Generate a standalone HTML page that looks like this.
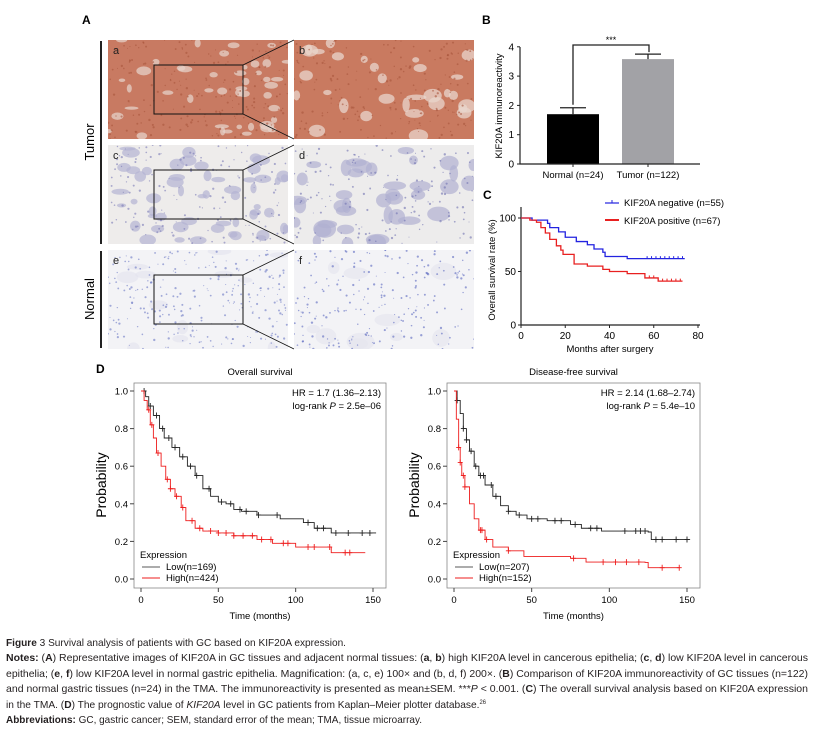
<!DOCTYPE html>
<html><head><meta charset="utf-8"><style>
html,body{margin:0;padding:0;background:#fff}
svg{display:block;font-family:"Liberation Sans",Arial,sans-serif}
</style></head><body>
<svg id="fig" width="814" height="731" viewBox="0 0 814 731">
<g id="panelA"></g>
<g id="panelB"></g>
<g id="panelC"></g>
<g id="panelD1"></g>
<g id="panelD2"></g>
<g id="caption" font-size="10.5" fill="#231f20">
<text x="6" y="646" textLength="340" lengthAdjust="spacingAndGlyphs"><tspan font-weight="bold">Figure</tspan> 3 Survival analysis of patients with GC based on KIF20A expression.</text>
<text x="6" y="661" textLength="802" lengthAdjust="spacingAndGlyphs"><tspan font-weight="bold">Notes:</tspan> (<tspan font-weight="bold">A</tspan>) Representative images of KIF20A in GC tissues and adjacent normal tissues: (<tspan font-weight="bold">a</tspan>, <tspan font-weight="bold">b</tspan>) high KIF20A level in cancerous epithelia; (<tspan font-weight="bold">c</tspan>, <tspan font-weight="bold">d</tspan>) low KIF20A level in cancerous</text>
<text x="6" y="677" textLength="802" lengthAdjust="spacingAndGlyphs">epithelia; (<tspan font-weight="bold">e</tspan>, <tspan font-weight="bold">f</tspan>) low KIF20A level in normal gastric epithelia. Magnification: (a, c, e) 100× and (b, d, f) 200×. (<tspan font-weight="bold">B</tspan>) Comparison of KIF20A immunoreactivity of GC tissues (n=122)</text>
<text x="6" y="692" textLength="802" lengthAdjust="spacingAndGlyphs">and normal gastric tissues (n=24) in the TMA. The immunoreactivity is presented as mean±SEM. ***<tspan font-style="italic">P</tspan> &lt; 0.001. (<tspan font-weight="bold">C</tspan>) The overall survival analysis based on KIF20A expression</text>
<text x="6" y="708" textLength="480" lengthAdjust="spacingAndGlyphs">in the TMA. (<tspan font-weight="bold">D</tspan>) The prognostic value of <tspan font-style="italic">KIF20A</tspan> level in GC patients from Kaplan–Meier plotter database.<tspan font-size="6" dy="-4">26</tspan></text>
<text x="6" y="723" textLength="416" lengthAdjust="spacingAndGlyphs"><tspan font-weight="bold">Abbreviations:</tspan> GC, gastric cancer; SEM, standard error of the mean; TMA, tissue microarray.</text>
</g>
</svg>
<script>
// ---------- Panel B data ----------
const barCategories = ["Normal (n=24)", "Tumor (n=122)"];
const barValues = [1.7, 3.58];
const barErrors = [0.22, 0.17];
const barTicks = [0, 1, 2, 3, 4];
// ---------- Panel C data ----------
const cTicksX = [0, 20, 40, 60, 80];
const cTicksY = [0, 50, 100];
const negTimes = [0, 5, 12, 13, 17, 20, 25, 30, 33, 37, 38, 48, 74];
const negSurv = [100, 98, 95, 91, 87, 82, 78, 75, 71, 68, 64, 62, 62];
const negCensor = [57, 59, 61, 63, 65, 67, 69, 71, 73];
const posTimes = [0, 4, 7, 9, 11, 13, 16, 18, 19, 24, 30, 37, 40, 48, 56, 62, 73];
const posSurv = [100, 98, 96, 91, 86, 80, 74, 70, 66, 57, 55, 52, 50, 48, 44, 41, 41];
const posCensor = [58, 60, 64, 66, 68, 70, 72];
// ---------- Panel D data ----------
const dTicksX = [0, 50, 100, 150];
const dTicksY = [0, 0.2, 0.4, 0.6, 0.8, 1.0];
const osLowT = [0, 3, 5, 8, 12, 15, 20, 25, 30, 35, 40, 45, 50, 55, 60, 65, 75, 90, 105, 112, 123, 152];
const osLowS = [1, 0.97, 0.92, 0.87, 0.8, 0.75, 0.7, 0.65, 0.6, 0.55, 0.48, 0.44, 0.41, 0.4, 0.37, 0.36, 0.34, 0.32, 0.3, 0.27, 0.245, 0.245];
const osLowC = [2, 6, 10, 14, 18, 22, 27, 32, 36, 44, 52, 58, 64, 68, 76, 88, 108, 114, 118, 126, 134, 143, 148];
const osHighT = [0, 2, 4, 6, 8, 10, 13, 16, 19, 22, 26, 29, 35, 40, 50, 60, 75, 85, 100, 123, 145];
const osHighS = [1, 0.95, 0.9, 0.82, 0.75, 0.67, 0.6, 0.53, 0.48, 0.44, 0.38, 0.31, 0.27, 0.255, 0.245, 0.23, 0.21, 0.19, 0.17, 0.14, 0.14];
const osHighC = [5, 7, 11, 17, 19, 23, 27, 33, 38, 45, 50, 55, 60, 66, 72, 78, 84, 92, 95, 108, 112, 122, 132, 135];
const dfsLowT = [0, 2, 4, 6, 8, 10, 13, 16, 20, 25, 30, 35, 40, 47, 60, 75, 82, 95, 125, 127, 152];
const dfsLowS = [1, 0.95, 0.88, 0.8, 0.74, 0.68, 0.6, 0.55, 0.5, 0.44, 0.39, 0.36, 0.34, 0.32, 0.31, 0.29, 0.27, 0.255, 0.25, 0.21, 0.21];
const dfsLowC = [2, 6, 8, 11, 14, 17, 19, 24, 27, 35, 42, 50, 54, 65, 69, 78, 88, 92, 110, 117, 120, 123, 130, 134, 143, 150];
const dfsHighT = [0, 1.5, 3, 4, 5, 7, 10, 13, 16, 20, 25, 35, 45, 75, 85, 123, 125, 145];
const dfsHighS = [1, 0.85, 0.7, 0.62, 0.55, 0.49, 0.4, 0.32, 0.26, 0.21, 0.17, 0.15, 0.12, 0.11, 0.09, 0.088, 0.06, 0.06];
const dfsHighC = [3, 4, 6, 7, 17, 18, 21, 35, 77, 96, 104, 111, 119, 134, 145];

const NS = "http://www.w3.org/2000/svg";
function mk(parent, tag, attrs, txt) {
  const e = document.createElementNS(NS, tag);
  for (const k in attrs) e.setAttribute(k, attrs[k]);
  if (txt !== undefined) e.textContent = txt;
  parent.appendChild(e);
  return e;
}
function stepAt(T, S, t) { let v = S[0]; for (let i = 0; i < T.length; i++) if (T[i] <= t) v = S[i]; return v; }
function stepPath(T, S, sx, sy) {
  let d = "M" + sx(T[0]) + "," + sy(S[0]);
  for (let i = 1; i < T.length; i++) d += " H" + sx(T[i]) + " V" + sy(S[i]);
  return d;
}

// ---------- Panel A (histology textures) ----------
(function () {
  const g = document.getElementById("panelA");
  mk(g, "text", { x: 82, y: 24, "font-size": 12, "font-weight": "bold" }, "A");
  let seed = 7; function rnd() { seed = (seed * 16807) % 2147483647; return seed / 2147483647; }
  const tiles = [
    { x: 108, y: 40, bg: "#c87a62", blob: "#e6d2c8", nb: 45, rx: 5, ry: 3, op: 0.75, dot: "#a8553c", nd: 200, l: "a" },
    { x: 294, y: 40, bg: "#c97a60", blob: "#e8d6cc", nb: 30, rx: 7, ry: 5, op: 0.75, dot: "#a8553c", nd: 200, l: "b" },
    { x: 108, y: 145, bg: "#eeeceb", blob: "#b3b3d3", nb: 55, rx: 6, ry: 4, op: 0.7, dot: "#7a7ab5", nd: 150, l: "c" },
    { x: 294, y: 145, bg: "#edecec", blob: "#b0b1d2", nb: 40, rx: 8, ry: 6, op: 0.7, dot: "#6f72b0", nd: 150, l: "d" },
    { x: 108, y: 250, bg: "#f3f3f6", blob: "#e2e2ee", nb: 12, rx: 8, ry: 5, op: 0.6, dot: "#6b78c4", nd: 260, l: "e" },
    { x: 294, y: 250, bg: "#f3f3f6", blob: "#e4e4ef", nb: 10, rx: 10, ry: 6, op: 0.6, dot: "#5a68c0", nd: 220, l: "f" }
  ];
  tiles.forEach((t, i) => {
    const tg = mk(g, "g", {});
    
    
    const cp = mk(g, "clipPath", { id: "cp" + i });
    mk(cp, "rect", { x: t.x, y: t.y, width: 180, height: 99 });
    const inner = mk(tg, "g", { "clip-path": "url(#cp" + i + ")" });
    mk(inner, "rect", { x: t.x, y: t.y, width: 180, height: 99, fill: t.bg });
    for (let k = 0; k < t.nb; k++) mk(inner, "ellipse", { cx: t.x + rnd() * 180, cy: t.y + rnd() * 99, rx: t.rx * (0.5 + rnd()), ry: t.ry * (0.5 + rnd()), fill: t.blob, opacity: t.op });
    for (let k = 0; k < t.nd; k++) mk(inner, "circle", { cx: t.x + rnd() * 180, cy: t.y + rnd() * 99, r: 0.5 + rnd() * 0.7, fill: t.dot, opacity: 0.6 });
    mk(tg, "text", { x: t.x + 5, y: t.y + 14, "font-size": 11, fill: "#222" }, t.l);
    if (i % 2 === 0) {
      mk(tg, "rect", { x: t.x + 46, y: t.y + 25, width: 89, height: 49, fill: "none", stroke: "#111", "stroke-width": 1 });
      mk(g, "line", { x1: t.x + 135, y1: t.y + 25, x2: t.x + 186, y2: t.y, stroke: "#111", "stroke-width": 0.8 });
      mk(g, "line", { x1: t.x + 135, y1: t.y + 74, x2: t.x + 186, y2: t.y + 99, stroke: "#111", "stroke-width": 0.8 });
    }
  });
  mk(g, "line", { x1: 101, y1: 41, x2: 101, y2: 244, stroke: "#222", "stroke-width": 2 });
  mk(g, "line", { x1: 101, y1: 251, x2: 101, y2: 348, stroke: "#222", "stroke-width": 2 });
  const t1 = mk(g, "text", { x: 0, y: 0, "font-size": 13, transform: "translate(94,142) rotate(-90)", "text-anchor": "middle" }, "Tumor");
  
  const t2 = mk(g, "text", { x: 0, y: 0, "font-size": 13, transform: "translate(94,299) rotate(-90)", "text-anchor": "middle" }, "Normal");
  
})();

// ---------- Panel B ----------
(function () {
  const g = document.getElementById("panelB");
  mk(g, "text", { x: 482, y: 24, "font-size": 12, "font-weight": "bold" }, "B");
  const y = v => 164 - v * 29.3;
  const xc = [573, 648];
  const fills = ["#000", "#a2a2a6"];
  barTicks.forEach(t => {
    mk(g, "line", { x1: 517, x2: 520, y1: y(t), y2: y(t), stroke: "#222" });
    const tl = mk(g, "text", { x: 514, y: y(t) + 3.5, "font-size": 10, "text-anchor": "end" }, t);
    
  });
  barValues.forEach((v, i) => {
    const r = mk(g, "rect", { x: xc[i] - 26, y: y(v), width: 52, height: y(0) - y(v), fill: fills[i] });
    
    
    mk(g, "line", { x1: xc[i], x2: xc[i], y1: y(v), y2: y(v + barErrors[i]), stroke: "#222", "stroke-width": 1.3 });
    mk(g, "line", { x1: xc[i] - 13, x2: xc[i] + 13, y1: y(v + barErrors[i]), y2: y(v + barErrors[i]), stroke: "#222", "stroke-width": 1.3 });
    mk(g, "line", { x1: xc[i], x2: xc[i], y1: 164, y2: 167, stroke: "#222" });
    const cl = mk(g, "text", { x: xc[i], y: 178, "font-size": 9.5, "text-anchor": "middle" }, barCategories[i]);
    
  });
  mk(g, "path", { d: "M520,47 V164 H700", fill: "none", stroke: "#222", "stroke-width": 1.2 });
  const br = mk(g, "path", { d: "M573," + (y(barValues[0] + barErrors[0]) - 3) + " V45 H649 V" + (y(barValues[1] + barErrors[1]) - 2), fill: "none", stroke: "#222", "stroke-width": 1.3 });
  
  mk(g, "text", { x: 611, y: 43, "font-size": 9, "text-anchor": "middle" }, "***");
  const yt = mk(g, "text", { x: 0, y: 0, "font-size": 9.5, transform: "translate(502,106) rotate(-90)", "text-anchor": "middle" }, "KIF20A immunoreactivity");
  
})();

// ---------- Panel C ----------
(function () {
  const g = document.getElementById("panelC");
  mk(g, "text", { x: 483, y: 199, "font-size": 12, "font-weight": "bold" }, "C");
  const sx = t => 521 + t * (698 - 521) / 80;
  const sy = v => 325 - v * (325 - 218) / 100;
  cTicksX.forEach(t => {
    mk(g, "line", { x1: sx(t), x2: sx(t), y1: 325, y2: 328, stroke: "#222" });
    mk(g, "text", { x: sx(t), y: 339, "font-size": 10, "text-anchor": "middle" }, t);
  });
  cTicksY.forEach(t => {
    mk(g, "line", { x1: 518, x2: 521, y1: sy(t), y2: sy(t), stroke: "#222" });
    mk(g, "text", { x: 516, y: sy(t) + 3.5, "font-size": 10, "text-anchor": "end" }, t);
  });
  mk(g, "path", { d: "M521,207 V325 H700", fill: "none", stroke: "#222", "stroke-width": 1.2 });
  const series = [[negTimes, negSurv, negCensor, "#2323e0", "kif20a-negative-line"], [posTimes, posSurv, posCensor, "#e82020", "kif20a-positive-line"]];
  series.forEach(s => {
    const p = mk(g, "path", { d: stepPath(s[0], s[1], sx, sy), fill: "none", stroke: s[3], "stroke-width": 1.3 });
    
    
    s[2].forEach(c => mk(g, "line", { x1: sx(c), x2: sx(c), y1: sy(stepAt(s[0], s[1], c)) - 2.5, y2: sy(stepAt(s[0], s[1], c)), stroke: s[3] }));
  });
  mk(g, "line", { x1: 605, x2: 619, y1: 203, y2: 203, stroke: "#2323e0", "stroke-width": 1.2 });
  mk(g, "line", { x1: 612, x2: 612, y1: 200, y2: 203, stroke: "#2323e0" });
  mk(g, "text", { x: 624, y: 206, "font-size": 9.5 }, "KIF20A negative (n=55)");
  mk(g, "line", { x1: 605, x2: 619, y1: 220, y2: 220, stroke: "#e82020", "stroke-width": 2 });
  mk(g, "text", { x: 624, y: 224, "font-size": 9.5 }, "KIF20A positive (n=67)");
  mk(g, "text", { x: 0, y: 0, "font-size": 9.5, transform: "translate(495,270) rotate(-90)", "text-anchor": "middle" }, "Overall survival rate (%)");
  mk(g, "text", { x: 610, y: 352, "font-size": 9.5, "text-anchor": "middle" }, "Months after surgery");
})();

// ---------- Panel D ----------
function kmPanel(id, x0, x150, title, hr, p, lowT, lowS, lowC, highT, highS, highC, lowN, highN) {
  const g = document.getElementById(id);
  const sx = t => x0 + t * (x150 - x0) / 150;
  const sy = v => 579 - v * (579 - 391);
  const L = x0 - 7, R = x150 + 13;
  mk(g, "rect", { x: L, y: 383, width: R - L, height: 205, fill: "none", stroke: "#888", "stroke-width": 0.8 });
  mk(g, "text", { x: (L + R) / 2, y: 375, "font-size": 9.5, "text-anchor": "middle" }, title);
  dTicksX.forEach(t => {
    mk(g, "line", { x1: sx(t), x2: sx(t), y1: 588, y2: 592, stroke: "#444" });
    mk(g, "text", { x: sx(t), y: 603, "font-size": 9.5, "text-anchor": "middle" }, t);
  });
  dTicksY.forEach(t => {
    mk(g, "line", { x1: L - 4, x2: L, y1: sy(t), y2: sy(t), stroke: "#444" });
    mk(g, "text", { x: L - 6, y: sy(t) + 3.5, "font-size": 9.5, "text-anchor": "end" }, t.toFixed(1));
  });
  mk(g, "text", { x: (L + R) / 2, y: 619, "font-size": 9.5, "text-anchor": "middle" }, "Time (months)");
  mk(g, "text", { x: 0, y: 0, "font-size": 14, transform: "translate(" + (L - 28) + ",485) rotate(-90)", "text-anchor": "middle" }, "Probability");
  const ser = [[lowT, lowS, lowC, "#222", "low-expression-line"], [highT, highS, highC, "#ee1c1c", "high-expression-line"]];
  ser.forEach(s => {
    const pa = mk(g, "path", { d: stepPath(s[0], s[1], sx, sy), fill: "none", stroke: s[3], "stroke-width": 0.9 });
    
    
    s[2].forEach(c => {
      const cx = sx(c), cy = sy(stepAt(s[0], s[1], c));
      mk(g, "path", { d: "M" + (cx - 2.5) + "," + cy + "H" + (cx + 2.5) + "M" + cx + "," + (cy - 3) + "V" + (cy + 3), stroke: s[3], "stroke-width": 0.9 });
    });
  });
  const hrT = mk(g, "text", { x: R - 5, y: 396, "font-size": 9.5, "text-anchor": "end" }, hr);
  
  const pt = mk(g, "text", { x: R - 5, y: 409, "font-size": 9.5, "text-anchor": "end" });
  
  pt.innerHTML = 'log-rank <tspan font-style="italic">P</tspan> = ' + p;
  mk(g, "text", { x: L + 6, y: 558, "font-size": 9.5 }, "Expression");
  mk(g, "line", { x1: L + 8, x2: L + 26, y1: 567, y2: 567, stroke: "#222", "stroke-width": 0.8 });
  mk(g, "text", { x: L + 32, y: 570, "font-size": 9.5 }, "Low(n=" + lowN + ")");
  mk(g, "line", { x1: L + 8, x2: L + 26, y1: 578, y2: 578, stroke: "#ee1c1c", "stroke-width": 0.9 });
  mk(g, "text", { x: L + 32, y: 581, "font-size": 9.5 }, "High(n=" + highN + ")");
}
mk(document.getElementById("panelD1"), "text", { x: 96, y: 373, "font-size": 12, "font-weight": "bold" }, "D");
kmPanel("panelD1", 141, 373, "Overall survival", "HR = 1.7 (1.36–2.13)", "2.5e–06", osLowT, osLowS, osLowC, osHighT, osHighS, osHighC, 169, 424);
kmPanel("panelD2", 454, 687, "Disease-free survival", "HR = 2.14 (1.68–2.74)", "5.4e–10", dfsLowT, dfsLowS, dfsLowC, dfsHighT, dfsHighS, dfsHighC, 207, 152);
</script>
</body></html>
